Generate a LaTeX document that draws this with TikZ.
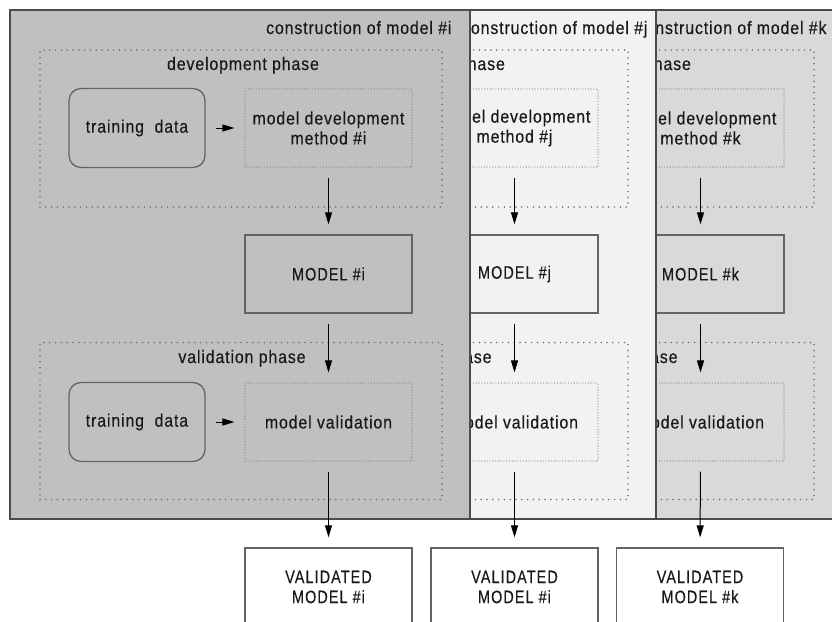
\documentclass[tikz,border=0pt]{standalone}
\usepackage{fontspec}
\setmainfont{Liberation Sans}[FakeStretch=0.88, LetterSpace=5, FakeBold=0.35]
\newfontfamily\capsfont{Liberation Sans}[FakeStretch=0.8, LetterSpace=6, FakeBold=0.35]
\usetikzlibrary{arrows.meta}

\definecolor{panelI}{RGB}{192,192,192}
\definecolor{panelJ}{RGB}{242,242,242}
\definecolor{panelK}{RGB}{217,217,217}
\definecolor{frameC}{RGB}{75,75,75}
\definecolor{boxC}{RGB}{100,100,100}
\definecolor{dotC}{RGB}{110,110,110}
\definecolor{textC}{RGB}{25,25,25}

\tikzset{
  panelbox/.style={draw=frameC, line width=1.9pt, minimum width=460pt,
    minimum height=509pt, inner sep=0pt},
  phasebox/.style={draw=dotC, line width=1.7pt, dash pattern=on 0pt off 5.8pt,
    line cap=round, inner sep=0pt, minimum width=402pt, minimum height=157pt},
  databox/.style={draw=boxC, line width=1.3pt, rounded corners=12pt,
    minimum width=136pt, minimum height=79pt, inner sep=0pt},
  methodbox/.style={draw=dotC, line width=1.1pt, dash pattern=on 0pt off 2.8pt,
    line cap=round, minimum width=167pt, minimum height=78pt, inner sep=0pt,
    align=center},
  modelbox/.style={draw=boxC, line width=1.3pt, minimum width=167pt,
    minimum height=78pt, inner sep=0pt, font=\capsfont\fontsize{18}{20}\selectfont},
  finalbox/.style={modelbox, fill=white, align=center},
  flow/.style={draw=black, line width=1pt, -{Triangle[length=12pt,width=7pt]},
    shorten <=10pt, shorten >=10pt},
}

% One "construction of model" card: x offset, name suffix, model tag,
% fill colour, right end of the title
\newcommand\modelpanel[5]{%
\begin{scope}[xshift=#1]
  \node[panelbox, fill=#4] (panel#2) at (240,264.5) {};
  \node[anchor=base east] (title#2) at (#5,34) {construction of model \##3};
  \node[phasebox] (devphase#2) at (241,128.5) {};
  \node[anchor=base] (devlabel#2) at (243,70) {development phase};
  \node[methodbox] (method#2) at (328.5,128) {model development\\method \##3};
  \node[modelbox] (model#2) at (328.5,274) {MODEL \##3};
  \node[phasebox] (valphase#2) at (241,421) {};
  \node[anchor=base] (vallabel#2) at (242,363) {validation phase};
  \node[methodbox] (valid#2) at (328.5,422) {model validation};
  \draw[flow] (method#2) -- (model#2);
  \draw[flow] (model#2) -- (valid#2);
\end{scope}}

\begin{document}
\begin{tikzpicture}[x=1pt, y=-1pt, font=\fontsize{18}{20}\selectfont, text=textC]
  \useasboundingbox (0,0) rectangle (832,621);
  \fill[white] (0,0) rectangle (832,621);
  \clip (0,0) rectangle (832,621);

  % cards, back to front
  \modelpanel{372}{K}{k}{panelK}{458}
  \modelpanel{186}{J}{j}{panelJ}{465}
  \modelpanel{0}{I}{i}{panelI}{455}

  % training data inputs of the front card
  \node[databox] (devdataI) at (137,128) {training\ \ data};
  \node[databox] (valdataI) at (137,422) {training\ \ data};
  \draw[flow] (devdataI) -- (methodI);
  \draw[flow] (valdataI) -- (validI);

  % validated results below the cards
  \node[finalbox] (finalI) at (328.5,587) {VALIDATED\\MODEL \#i};
  \node[finalbox] (finalJ) at (514.5,587) {VALIDATED\\MODEL \#i};
  \node[finalbox] (finalK) at (700,587) {VALIDATED\\MODEL \#k};
  \draw[flow] (validI) -- (finalI);
  \draw[flow] (validJ) -- (finalJ);
  \draw[flow] (validK) -- (finalK);
\end{tikzpicture}
\end{document}
